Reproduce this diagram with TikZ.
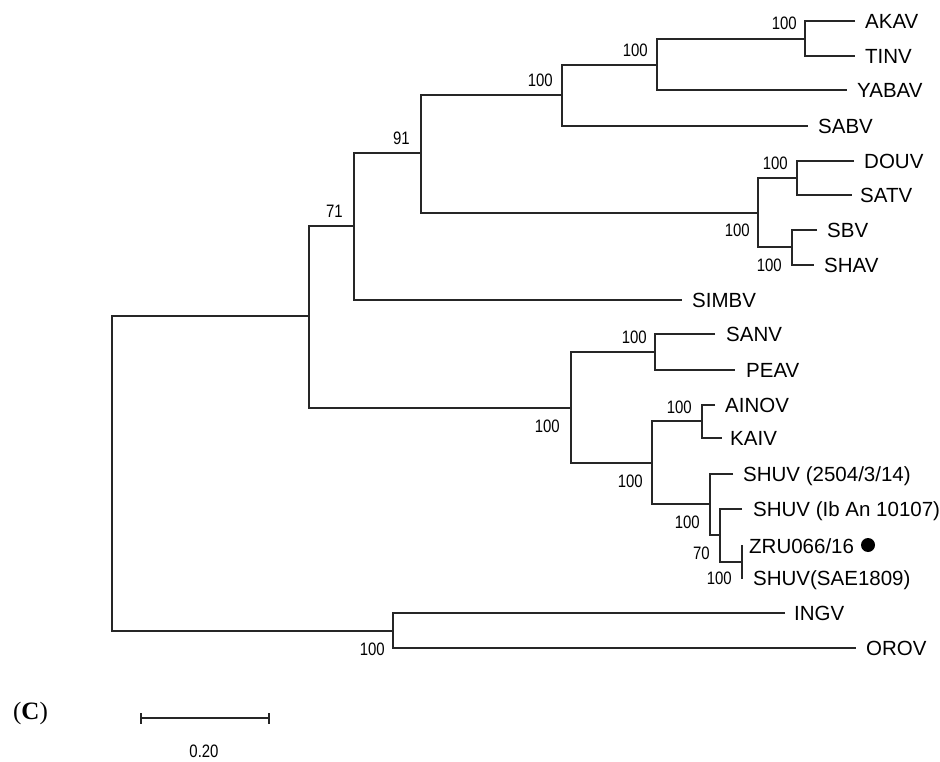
\documentclass[tikz,border=0pt]{standalone}
\usepackage{fontspec}
\newfontfamily\labfont{Liberation Sans}
\newfontfamily\bsfont[FakeStretch=0.83]{Liberation Sans}
\newfontfamily\serfont{Liberation Serif}
\begin{document}
\begin{tikzpicture}[x=1pt,y=-1pt,
  branch/.style={line width=1.5pt, draw=black!85},
  leaf/.style={anchor=west, inner xsep=10pt, inner ysep=0pt, text height=14.7pt, text depth=0pt,
    font=\labfont\fontsize{20.5}{20.5}\selectfont},
  boot/.style={anchor=east, inner sep=0pt, text height=12.9pt, text depth=0pt,
    font=\bsfont\fontsize{18}{18}\selectfont}]
\useasboundingbox[fill=white] (0,0) rectangle (940,762);
% leaves (west anchor = end of branch)
\node[leaf] (akav) at (855,21) {AKAV};
\node[leaf] (tinv) at (855,56) {TINV};
\node[leaf] (yabav) at (847,90) {YABAV};
\node[leaf] (sabv) at (808,126) {SABV};
\node[leaf] (douv) at (854,161) {DOUV};
\node[leaf, inner xsep=8pt] (satv) at (852,195) {SATV};
\node[leaf] (sbv) at (817,230) {SBV};
\node[leaf] (shav) at (814,265) {SHAV};
\node[leaf] (simbv) at (682,300) {SIMBV};
\node[leaf, inner xsep=11pt] (sanv) at (715,334) {SANV};
\node[leaf, inner xsep=11pt] (peav) at (735,370) {PEAV};
\node[leaf] (ainov) at (715,405) {AINOV};
\node[leaf, inner xsep=8pt] (kaiv) at (722,438) {KAIV};
\node[leaf] (shua) at (733,474) {SHUV (2504/3/14)};
\node[leaf, inner xsep=11pt] (shub) at (742,509) {SHUV (Ib An 10107)};
\node[leaf, inner xsep=6pt] (zru) at (743,546) {ZRU066/16};
\node[leaf, inner xsep=10pt] (shuc) at (743,578) {SHUV(SAE1809)};
\node[leaf, inner xsep=9pt] (ingv) at (785,613) {INGV};
\node[leaf] (orov) at (856,648) {OROV};
\node[circle, fill=black, inner sep=0pt, minimum size=14pt] (dot) at (868,545) {};
% internal nodes
\coordinate (n805) at (805,39);
\coordinate (n657) at (657,65);
\coordinate (n562) at (562,95);
\coordinate (n797) at (797,178);
\coordinate (n792) at (792,247);
\coordinate (n758) at (758,213);
\coordinate (n421) at (421,153);
\coordinate (n354) at (354,226);
\coordinate (n655) at (655,352);
\coordinate (n702) at (702,421);
\coordinate (n742) at (742,562);
\coordinate (n720) at (720,535);
\coordinate (n710) at (710,504);
\coordinate (n652) at (652,463);
\coordinate (n571) at (571,408);
\coordinate (n309) at (309,316);
\coordinate (n393) at (393,631);
\coordinate (n112) at (112,473);
% branches
\draw[branch] (akav.west) -| (n805) |- (tinv.west);
\draw[branch] (n805) -| (n657) |- (yabav.west);
\draw[branch] (n657) -| (n562) |- (sabv.west);
\draw[branch] (douv.west) -| (n797) |- (satv.west);
\draw[branch] (sbv.west) -| (n792) |- (shav.west);
\draw[branch] (n797) -| (n758) |- (n792);
\draw[branch] (n562) -| (n421) |- (n758);
\draw[branch] (n421) -| (n354) |- (simbv.west);
\draw[branch] (sanv.west) -| (n655) |- (peav.west);
\draw[branch] (ainov.west) -| (n702) |- (kaiv.west);
\draw[branch] (zru.west) -| (n742) |- (shuc.west);
\draw[branch] (shub.west) -| (n720) |- (n742);
\draw[branch] (shua.west) -| (n710) |- (n720);
\draw[branch] (n702) -| (n652) |- (n710);
\draw[branch] (n655) -| (n571) |- (n652);
\draw[branch] (n354) -| (n309) |- (n571);
\draw[branch] (ingv.west) -| (n393) |- (orov.west);
\draw[branch] (n309) -| (n112) |- (n393);
% bootstrap values
\node[boot] (b805) at (797,23) {100};
\node[boot] (b657) at (648,50) {100};
\node[boot] (b562) at (553,80) {100};
\node[boot] (b421) at (410,138) {91};
\node[boot] (b354) at (343,211) {71};
\node[boot] (b797) at (788,163) {100};
\node[boot] (b758) at (750,230) {100};
\node[boot] (b792) at (782,265) {100};
\node[boot] (b655) at (647,337) {100};
\node[boot] (b571) at (560,426) {100};
\node[boot] (b702) at (692,407) {100};
\node[boot] (b652) at (643,481) {100};
\node[boot] (b710) at (700,522) {100};
\node[boot] (b720) at (710,553) {70};
\node[boot] (b742) at (732,578) {100};
\node[boot] (b393) at (385,649) {100};
% scale bar
\coordinate (sbl) at (141,718);
\coordinate (sbr) at (269,718);
\draw[branch] (sbl) -- (sbr);
\draw[branch] ([yshift=-5.5pt]sbl) -- ([yshift=5.5pt]sbl);
\draw[branch] ([yshift=-5.5pt]sbr) -- ([yshift=5.5pt]sbr);
\node[boot, anchor=center] (sblab) at (204,751) {0.20};
% panel label
\node[inner sep=0pt, font=\serfont\fontsize{25}{25}\selectfont] (panel) at (30.5,713) {(\textbf{C})};
\end{tikzpicture}
\end{document}
